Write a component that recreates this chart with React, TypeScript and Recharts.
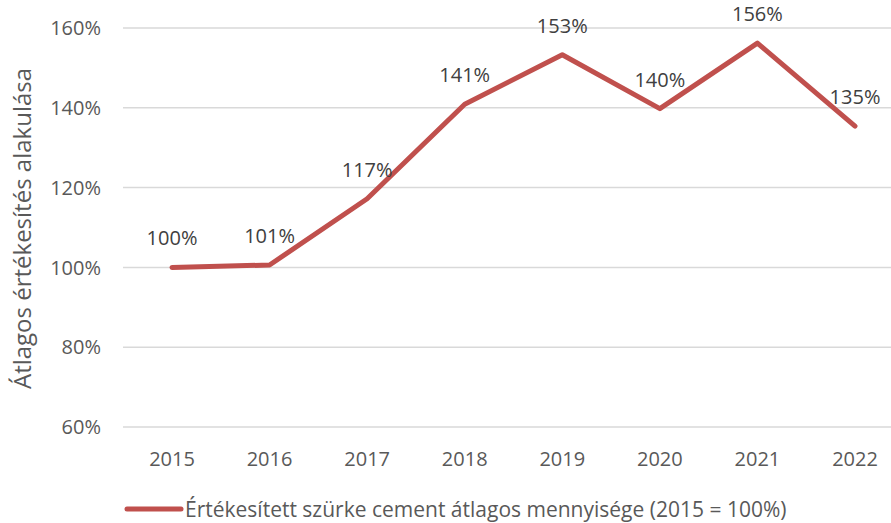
import React from 'react';
import { LineChart, Line, XAxis, YAxis, CartesianGrid, Legend, LabelList } from 'recharts';

const years = ['2015', '2016', '2017', '2018', '2019', '2020', '2021', '2022'];
const avgQuantity = [100, 100.6, 117.2, 140.9, 153.3, 139.8, 156.2, 135.4];
const yTicks = [60, 80, 100, 120, 140, 160];

const seriesName = 'Értékesített szürke cement átlagos mennyisége (2015 = 100%)';
const yTitle = 'Átlagos értékesítés alakulása';

const data = years.map((year, i) => ({ year, value: avgQuantity[i] }));

const FONT = '"Open Sans", "Noto Sans", sans-serif';
const RED = '#C0504D';

const YTitle = (props: any) => {
  const vb = props.viewBox || {};
  const cx = 21;
  const cy = (vb.y ?? 28) + (vb.height ?? 400) / 2 + 1;
  return (
    <text
      x={cx}
      y={cy}
      transform={`rotate(-90, ${cx}, ${cy})`}
      textAnchor="middle"
      dominantBaseline="central"
      fill="#595959"
      fontSize={24}
      fontFamily={FONT}
    >
      {yTitle}
    </text>
  );
};

const LegendContent = () => (
  <div style={{ display: 'flex', alignItems: 'center', paddingLeft: 124, height: 40, position: 'relative', top: 6, fontFamily: FONT }}>
    <svg width={60} height={10} style={{ display: 'block' }}>
      <line x1={3} y1={5} x2={57} y2={5} stroke={RED} strokeWidth={5} strokeLinecap="round" />
    </svg>
    <span style={{ fontSize: 21, color: '#595959', marginLeft: 1 }}>{seriesName}</span>
  </div>
);

export default function App() {
  return (
    <div style={{ position: 'fixed', left: 0, top: 0, width: 891, height: 523, overflow: 'hidden', background: '#fff' }}>
      <LineChart width={904} height={523} data={data} margin={{ top: 28, right: 0, bottom: 0, left: 0 }}>
        <CartesianGrid vertical={false} stroke="#d9d9d9" strokeWidth={1.5} />
        <XAxis
          dataKey="year"
          axisLine={false}
          tickLine={false}
          tickSize={0}
          tickMargin={25}
          height={56}
          padding={{ left: 49, right: 49 }}
          tick={{ fill: '#595959', fontSize: 20, fontFamily: FONT }}
        />
        <YAxis
          domain={[60, 160]}
          ticks={yTicks}
          width={123}
          axisLine={false}
          tickLine={false}
          tickSize={0}
          tickMargin={22}
          tickFormatter={(v: number) => `${v}%`}
          tick={{ fill: '#595959', fontSize: 20, fontFamily: FONT }}
          label={{ content: YTitle }}
        />
        <Legend verticalAlign="bottom" height={40} content={LegendContent} />
        <Line
          type="linear"
          dataKey="value"
          name={seriesName}
          stroke={RED}
          strokeWidth={5}
          strokeLinecap="round"
          strokeLinejoin="round"
          dot={false}
          activeDot={false}
          isAnimationActive={false}
        >
          <LabelList
            dataKey="value"
            position="top"
            offset={22}
            formatter={(v: number) => `${Math.round(v)}%`}
            style={{ fill: '#404040', fontSize: 20, fontFamily: FONT }}
          />
        </Line>
      </LineChart>
    </div>
  );
}
